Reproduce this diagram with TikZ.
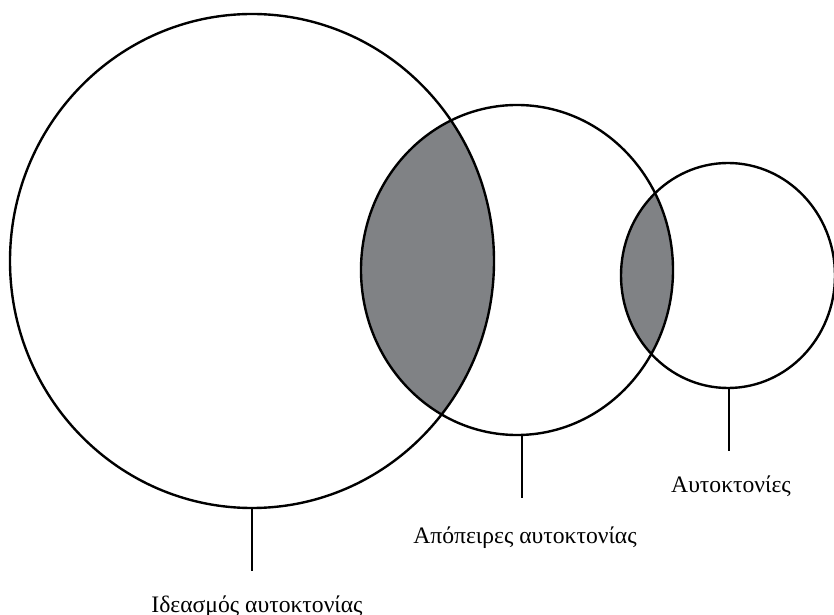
\documentclass[tikz,border=0pt]{standalone}
\usepackage{fontspec}
\setmainfont{Liberation Serif}
\usepackage{tikz}
\usetikzlibrary{calc}
\usetikzlibrary{positioning}
\definecolor{lensGray}{RGB}{128,130,133}
\tikzset{every picture/.style={line width=1.7pt}}
\tikzset{vennLabel/.style={anchor=base, inner sep=0pt, font=\fontsize{16.8}{19}\selectfont}}

\begin{document}
\begin{tikzpicture}[x=0.025cm, y=-0.025cm]
		\def\cAx{252}
		\def\cAy{261}
		\def\rAx{242}
		\def\rAy{247}
		\def\cBx{517}
		\def\cBy{270}
		\def\rBx{156}
		\def\rBy{165}
		\def\cCx{728}
		\def\cCy{275.5}
		\def\rCx{107}
		\def\rCy{112.5}
		\def\stem{63}

		\useasboundingbox (0,0) rectangle (834,615);

		\coordinate (ideas) at (\cAx,\cAy);
		\coordinate (attempts) at (\cBx,\cBy);
		\coordinate (suicides) at (\cCx,\cCy);

		\begin{scope}
			\clip (ideas) ellipse [x radius=\rAx, y radius=\rAy];
			\fill[lensGray] (attempts) ellipse [x radius=\rBx, y radius=\rBy];
		\end{scope}
		\begin{scope}
			\clip (attempts) ellipse [x radius=\rBx, y radius=\rBy];
			\fill[lensGray] (suicides) ellipse [x radius=\rCx, y radius=\rCy];
		\end{scope}

		\draw (ideas) ellipse [x radius=\rAx, y radius=\rAy];
		\draw (attempts) ellipse [x radius=\rBx, y radius=\rBy];
		\draw (suicides) ellipse [x radius=\rCx, y radius=\rCy];

		\coordinate (ideasBottom) at ($(ideas) + (0,\rAy)$);
		\coordinate (ideasEnd) at ($(ideasBottom) + (0,\stem)$);
		\coordinate (attemptsBottom) at ($(attempts) + (5,\rBy)$);
		\coordinate (attemptsEnd) at ($(attemptsBottom) + (0,\stem)$);
		\coordinate (suicidesBottom) at ($(suicides) + (1,\rCy)$);
		\coordinate (suicidesEnd) at ($(suicidesBottom) + (0,\stem)$);

		\node[vennLabel] (ideasLabel) at (257,612) {Ιδεασμός αυτοκτονίας};
		\node[vennLabel] (attemptsLabel) at (525,543) {Απόπειρες αυτοκτονίας};
		\node[vennLabel] (suicidesLabel) at (731,492) {Αυτοκτονίες};

		\draw (ideasBottom) -- (ideasEnd);
		\draw (attemptsBottom) -- (attemptsEnd);
		\draw (suicidesBottom) -- (suicidesEnd);
\end{tikzpicture}
\end{document}
